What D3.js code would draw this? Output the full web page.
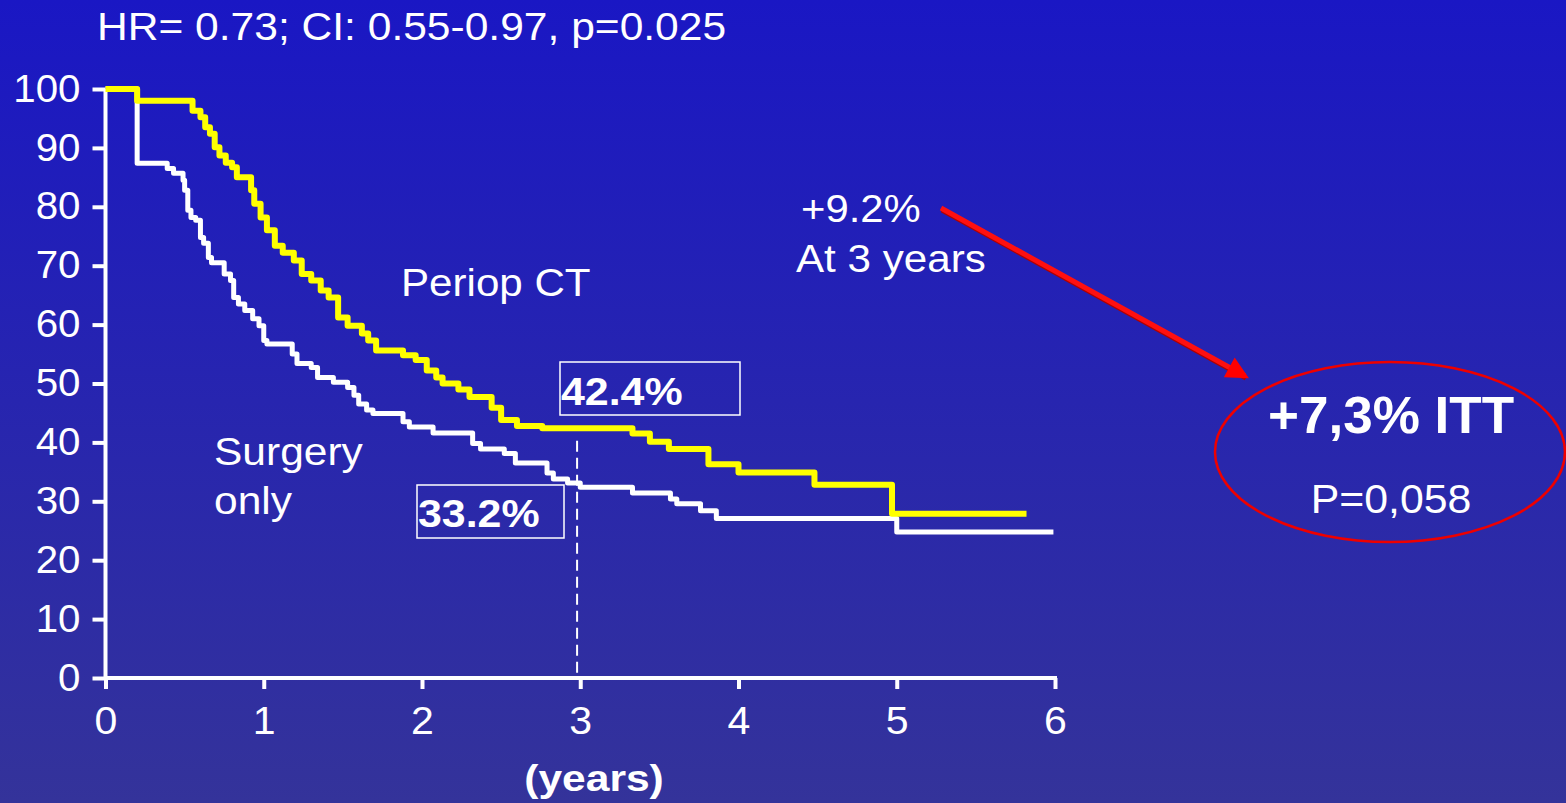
<!DOCTYPE html>
<html>
<head>
<meta charset="utf-8">
<script src="https://cdn.jsdelivr.net/npm/d3@7"></script>
<style>
  html, body { margin: 0; padding: 0; overflow: hidden; }
  svg { display: block; }
  text { font-family: "Liberation Sans", Arial, sans-serif; fill: #fff; }
</style>
</head>
<body>
<script>
// ---- data ----
const periopTimes  = [0, 0.2, 0.55, 0.6, 0.63, 0.66, 0.69, 0.72, 0.76, 0.8, 0.83, 0.92, 0.94, 0.98, 1.02, 1.07, 1.12, 1.19, 1.24, 1.3, 1.36, 1.41, 1.47, 1.53, 1.62, 1.66, 1.71, 1.88, 1.96, 2.03, 2.09, 2.13, 2.23, 2.3, 2.44, 2.5, 2.6, 2.76, 3.33, 3.44, 3.56, 3.81, 4.0, 4.48, 4.97, 5.82];
const periopValues = [100, 98, 96.3, 95.2, 93.5, 92.4, 90.1, 88.7, 87.5, 86.7, 85, 82.8, 80.5, 78.2, 76, 73.4, 72.2, 70.9, 68.6, 67.5, 65.8, 64.6, 61.2, 59.8, 58.5, 57.3, 55.6, 54.8, 54, 52.2, 51, 50, 49, 47.7, 45.9, 43.8, 42.8, 42.4, 41.5, 40.1, 38.9, 36.3, 34.9, 32.8, 27.9, 27.9];
const surgeryTimes  = [0, 0.2, 0.39, 0.43, 0.49, 0.5, 0.52, 0.54, 0.57, 0.6, 0.62, 0.65, 0.67, 0.75, 0.79, 0.81, 0.84, 0.88, 0.93, 0.97, 1.0, 1.02, 1.18, 1.21, 1.3, 1.34, 1.44, 1.53, 1.57, 1.6, 1.65, 1.69, 1.88, 1.92, 2.07, 2.32, 2.37, 2.52, 2.59, 2.79, 2.83, 2.92, 3.0, 3.33, 3.57, 3.61, 3.76, 3.86, 5.0, 5.99];
const surgeryValues = [100, 87.4, 86.5, 85.7, 84.5, 82.8, 79.4, 78.2, 77.7, 74.8, 73.8, 71.4, 70.5, 68.6, 67.5, 64.6, 63.5, 62.4, 61, 59.8, 57.3, 56.7, 55, 53.4, 52.7, 51, 50.2, 49.3, 48, 46.5, 45.5, 44.9, 43.5, 42.6, 41.6, 39.8, 38.9, 38.1, 36.5, 34.8, 33.8, 33.1, 32.4, 31.4, 30.4, 29.6, 28.4, 27.1, 24.8, 24.8];
const xTicks = [0, 1, 2, 3, 4, 5, 6];
const yTicks = [0, 10, 20, 30, 40, 50, 60, 70, 80, 90, 100];
const titleText = "HR= 0.73; CI: 0.55-0.97, p=0.025";
const markTime = 2.98;
const periopAt3 = "42.4%";
const surgeryAt3 = "33.2%";

const W = 1566, H = 803;
const svg = d3.select("body").append("svg").attr("width", W).attr("height", H);

const defs = svg.append("defs");
const grad = defs.append("linearGradient").attr("id", "bg").attr("x1", 0).attr("y1", 0).attr("x2", 0).attr("y2", 1);
grad.append("stop").attr("offset", "0%").attr("stop-color", "#1a17c4");
grad.append("stop").attr("offset", "100%").attr("stop-color", "#34339a");
defs.append("marker").attr("id", "arrowhead").attr("viewBox", "0 0 10 10")
  .attr("refX", 8).attr("refY", 5).attr("markerWidth", 5).attr("markerHeight", 4.5)
  .attr("orient", "auto").attr("markerUnits", "strokeWidth")
  .append("path").attr("d", "M0,0 L10,5 L0,10 Z").attr("fill", "#ff0000");

svg.append("rect").attr("width", W).attr("height", H).attr("fill", "url(#bg)");

const x = d3.scaleLinear().domain([0, 6]).range([105.5, 1055]);
const y = d3.scaleLinear().domain([0, 100]).range([678, 89]);

// text helper: horizontally stretched text like the original slide
function label(tx, ty, str, size, opts = {}) {
  const t = svg.append("text")
    .attr("transform", `translate(${tx},${ty}) scale(${opts.sx || 1.1},1)`)
    .attr("font-size", size).text(str);
  if (opts.bold) t.attr("font-weight", "bold");
  if (opts.anchor) t.attr("text-anchor", opts.anchor);
  return t;
}

// title
label(97, 40, titleText, 38, { sx: 1.12 });

// axes
const yAxis = svg.append("g").attr("transform", `translate(${x(0)},0)`)
  .call(d3.axisLeft(y).tickValues(yTicks).tickFormat(d3.format("d")).tickSize(13).tickSizeOuter(0).tickPadding(0));
const xAxis = svg.append("g").attr("transform", `translate(0,${y(0)})`)
  .call(d3.axisBottom(x).tickValues(xTicks).tickFormat(d3.format("d")).tickSize(11).tickSizeOuter(0).tickPadding(18));
[yAxis, xAxis].forEach(g => {
  g.select(".domain").attr("stroke", "#fff").attr("stroke-width", 4);
  g.selectAll(".tick line").attr("stroke", "#fff").attr("stroke-width", 4);
  g.selectAll(".tick text").attr("fill", "#fff").attr("font-size", 38)
    .attr("font-family", "Liberation Sans, Arial, sans-serif");
});
yAxis.selectAll(".tick text").attr("x", null).attr("transform", "translate(-25,0) scale(1.06,1)");
xAxis.selectAll(".tick text").attr("transform", "scale(1.08,1)");
xAxis.select(".domain").attr("d", `M${x(0)},0H${x(6) + 2}`);
yAxis.select(".domain").attr("d", `M0,${y(0) + 2}V${y(100)}`);

label(594, 791, "(years)", 37, { bold: true, anchor: "middle", sx: 1.15 });

// dashed line at 3 years
svg.append("line").attr("x1", x(markTime)).attr("x2", x(markTime))
  .attr("y1", y(40.3)).attr("y2", y(0))
  .attr("stroke", "#fff").attr("stroke-width", 2).attr("stroke-dasharray", "11,6");

// curves
const line = d3.line().x(d => x(d[0])).y(d => y(d[1])).curve(d3.curveStepAfter);
const periop = periopTimes.map((t, i) => [t, periopValues[i]]);
const surgery = surgeryTimes.map((t, i) => [t, surgeryValues[i]]);
svg.append("path").datum(surgery).attr("d", line).attr("fill", "none")
  .attr("stroke", "#ffffff").attr("stroke-width", 5).attr("stroke-linejoin", "round");
svg.append("path").datum(periop).attr("d", line).attr("fill", "none")
  .attr("stroke", "#ffff00").attr("stroke-width", 6).attr("stroke-linejoin", "round");

// labels
label(401, 296, "Periop CT", 39, { sx: 1.08 });
label(214, 465, "Surgery", 39, { sx: 1.09 });
label(214, 514, "only", 39, { sx: 1.09 });

// boxed values
svg.append("rect").attr("x", 560).attr("y", 362).attr("width", 180).attr("height", 53)
  .attr("fill", "none").attr("stroke", "#fff").attr("stroke-width", 1.5);
label(561, 405, periopAt3, 39, { bold: true, sx: 1.1 });
svg.append("rect").attr("x", 417).attr("y", 485).attr("width", 147).attr("height", 53)
  .attr("fill", "none").attr("stroke", "#fff").attr("stroke-width", 1.5);
label(418, 527, surgeryAt3, 39, { bold: true, sx: 1.1 });

// annotation
label(801, 222, "+9.2%", 38, { sx: 1.1 });
label(796, 272, "At 3 years", 38, { sx: 1.11 });
svg.append("line").attr("x1", 941).attr("y1", 208).attr("x2", 1245).attr("y2", 376)
  .attr("stroke", "#b00000").attr("stroke-width", 5).attr("transform", "translate(1,2)");
svg.append("line").attr("x1", 941).attr("y1", 208).attr("x2", 1245).attr("y2", 376)
  .attr("stroke", "#ff1010").attr("stroke-width", 5).attr("marker-end", "url(#arrowhead)");

svg.append("ellipse").attr("cx", 1390).attr("cy", 452).attr("rx", 175).attr("ry", 90)
  .attr("fill", "none").attr("stroke", "#ee0000").attr("stroke-width", 2.5);
label(1391, 433, "+7,3% ITT", 51, { bold: true, anchor: "middle", sx: 1.04 });
label(1391, 513, "P=0,058", 40, { anchor: "middle", sx: 1.07 });
</script>
</body>
</html>
